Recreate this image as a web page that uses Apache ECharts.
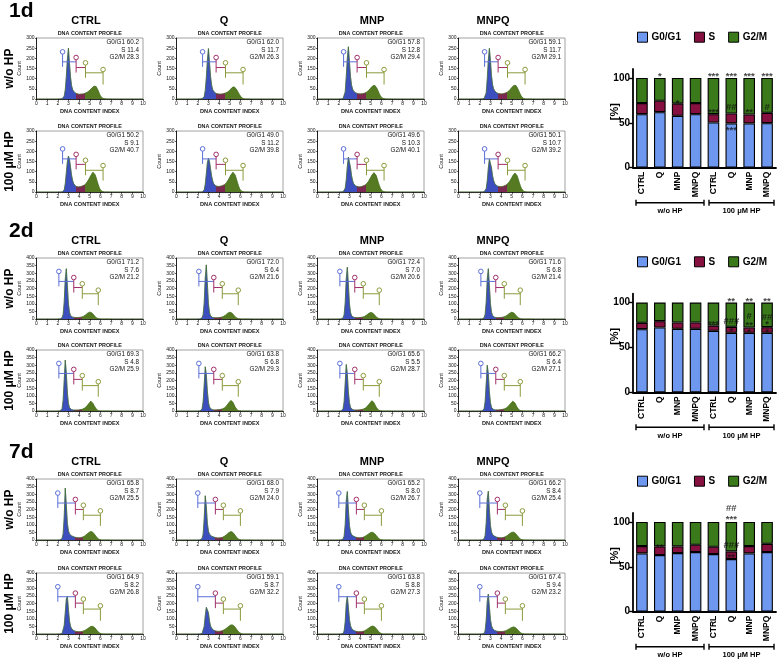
<!DOCTYPE html>
<html><head><meta charset="utf-8">
<script src="https://cdn.jsdelivr.net/npm/echarts@6/dist/echarts.min.js"></script>
<style>html,body{margin:0;padding:0;background:#fff}#c{width:780px;height:660px}</style>
</head><body><div id="c"></div>
<script>
// ---------------- DATA ----------------
const HIST_X = [2.0,2.1,2.2,2.3,2.4,2.5,2.6,2.7,2.8,2.9,3.0,3.1,3.2,3.3,3.4,3.5,3.6,3.7,3.8,3.9,4.0,4.1,4.2,4.3,4.4,4.5,4.6,4.7,4.8,4.9,5.0,5.1,5.2,5.3,5.4,5.5,5.6,5.7,5.8,5.9,6.0,6.1,6.2,6.3,6.4,6.5,6.6,6.7,6.8,6.9];

const H1D_WO_CTRL = [0,0,0,0,1,4,14,45,110,195,250,175,105,65,45,36,31,28,26,24,23,23,24,24,25,27,29,31,34,38,43,48,54,59,63,65,61,52,40,27,15,8,4,2,1,0,0,0,0,0];
const H1D_WO_Q    = [0,0,0,0,1,3,12,42,105,190,248,180,110,68,46,37,31,28,26,25,24,24,24,25,26,27,29,31,34,38,43,49,55,60,60,56,50,42,32,22,13,7,3,1,0,0,0,0,0,0];
const H1D_WO_MNP  = [0,0,0,0,2,8,35,110,200,257,185,110,68,48,38,33,30,28,26,25,25,25,26,27,28,30,33,37,42,48,54,60,65,68,66,60,50,38,26,15,8,4,2,1,0,0,0,0,0,0];
const H1D_WO_MNPQ = [0,0,0,0,2,7,30,100,190,249,190,115,70,50,40,34,30,28,26,25,25,25,26,27,29,31,34,38,43,49,56,62,67,69,66,58,47,35,23,13,7,3,1,0,0,0,0,0,0,0];
const H1D_HP_CTRL = [0,0,0,0,0,2,10,40,95,150,177,160,120,80,55,40,32,28,26,25,25,26,27,29,31,34,38,44,52,61,71,81,90,97,95,85,70,52,35,20,10,4,2,1,0,0,0,0,0,0];
const H1D_HP_Q    = [0,0,0,0,0,2,10,38,90,145,165,150,112,78,54,40,33,30,28,27,27,28,29,31,33,36,40,46,54,63,73,83,92,97,94,84,68,50,33,19,9,4,2,1,0,0,0,0,0,0];
const H1D_HP_MNP  = [0,0,0,0,1,4,18,60,125,172,165,120,80,55,40,33,29,27,26,25,25,26,28,30,32,35,39,45,53,62,72,82,90,95,92,82,66,48,32,18,9,4,2,1,0,0,0,0,0,0];
const H1D_HP_MNPQ = [0,0,0,0,1,4,16,55,118,162,158,118,80,56,42,34,30,28,27,26,26,27,28,30,32,35,39,45,52,60,70,80,88,93,90,80,64,47,31,18,9,4,2,1,0,0,0,0,0,0];

const H2D_WO_CTRL = [0,0,0,2,8,30,110,260,330,220,100,45,22,15,12,10,10,9,9,10,10,11,12,14,17,21,26,32,38,42,45,44,40,33,24,15,8,4,2,1,0,0,0,0,0,0,0,0,0,0];
const H2D_WO_Q    = [0,0,0,2,8,28,105,270,355,230,100,42,20,13,10,9,8,8,8,8,9,10,11,13,16,20,25,31,37,42,44,43,39,32,23,14,8,4,2,1,0,0,0,0,0,0,0,0,0,0];
const H2D_WO_MNP  = [0,0,0,2,7,28,105,265,340,225,100,44,21,14,11,10,9,9,9,9,10,10,11,13,16,20,25,31,36,40,43,42,38,31,23,14,8,4,2,1,0,0,0,0,0,0,0,0,0,0];
const H2D_WO_MNPQ = [0,0,0,2,8,30,110,262,330,222,100,45,22,14,11,10,9,9,9,9,10,11,12,14,17,21,26,32,37,41,44,43,39,32,23,14,8,4,2,1,0,0,0,0,0,0,0,0,0,0];
const H2D_HP_CTRL = [0,0,0,3,15,70,200,334,250,120,50,22,12,9,7,6,6,6,6,6,7,8,9,11,14,18,23,30,38,47,56,64,62,50,36,23,13,6,2,1,0,0,0,0,0,0,0,0,0,0];
const H2D_HP_Q    = [0,0,0,3,14,60,170,290,240,130,58,26,14,10,8,7,7,7,7,8,9,10,11,13,16,20,26,33,42,52,61,69,68,57,42,27,15,7,3,1,0,0,0,0,0,0,0,0,0,0];
const H2D_HP_MNP  = [0,0,0,3,14,62,180,305,245,125,55,24,13,9,7,6,6,6,6,7,8,9,10,12,15,19,25,32,40,50,59,67,66,55,40,26,14,7,3,1,0,0,0,0,0,0,0,0,0,0];
const H2D_HP_MNPQ = [0,0,0,3,14,62,178,300,245,125,55,24,13,9,7,7,7,7,7,8,9,10,11,13,16,20,25,32,40,49,57,64,63,52,38,24,13,6,3,1,0,0,0,0,0,0,0,0,0,0];

const H7D_WO_CTRL = [0,0,0,2,10,40,150,340,230,110,60,40,32,27,24,21,18,16,15,14,14,15,16,18,21,25,30,36,42,48,53,56,55,50,42,32,22,13,7,3,1,0,0,0,0,0,0,0,0,0];
const H7D_WO_Q    = [0,0,0,2,10,38,140,290,220,110,58,38,30,25,22,19,17,15,14,13,13,14,15,17,20,24,29,35,41,47,52,55,54,49,41,31,21,12,6,3,1,0,0,0,0,0,0,0,0,0];
const H7D_WO_MNP  = [0,0,0,1,6,25,100,260,318,200,95,52,35,28,24,21,18,16,15,14,14,15,16,18,21,25,30,35,40,45,49,51,50,46,39,30,21,13,7,3,1,0,0,0,0,0,0,0,0,0];
const H7D_WO_MNPQ = [0,0,0,1,7,28,110,270,320,200,95,52,35,28,24,21,18,16,15,14,14,15,16,18,21,25,30,35,41,46,50,52,51,46,39,30,21,13,7,3,1,0,0,0,0,0,0,0,0,0];
const H7D_HP_CTRL = [0,0,0,0,3,15,55,140,230,247,160,85,50,35,27,22,19,17,16,15,15,15,16,17,19,22,26,30,35,40,45,49,51,50,46,39,30,21,13,7,3,1,0,0,0,0,0,0,0,0];
const H7D_HP_Q    = [0,0,0,0,3,14,50,120,175,185,140,85,52,37,29,24,21,19,18,17,17,18,19,21,24,28,33,38,44,50,55,59,60,58,53,45,35,25,16,9,4,2,1,0,0,0,0,0,0,0];
const H7D_HP_MNP  = [0,0,0,0,4,20,80,200,247,175,95,55,36,28,23,20,18,16,15,15,15,15,16,18,20,24,28,33,38,43,48,51,52,50,45,37,28,19,11,6,2,1,0,0,0,0,0,0,0,0];
const H7D_HP_MNPQ = [0,0,0,0,4,22,90,215,262,180,95,55,36,28,23,20,18,17,16,16,16,16,17,18,20,23,27,31,35,39,43,46,46,44,39,32,24,16,9,5,2,1,0,0,0,0,0,0,0,0];

// panel percentages (rows: 1d w/o, 1d HP, 2d w/o, 2d HP, 7d w/o, 7d HP; cols: CTRL, Q, MNP, MNPQ)
const PCT_G0 = [[60.2,62.0,57.8,59.1],[50.2,49.0,49.6,50.1],[71.2,72.0,72.4,71.6],[69.3,63.8,65.6,66.2],[65.8,68.0,65.2,66.2],[64.9,59.1,63.8,67.4]];
const PCT_S  = [[11.4,11.7,12.8,11.7],[9.1,11.2,10.3,10.7],[7.6,6.4,7.0,6.8],[4.8,6.8,5.5,6.4],[8.7,7.9,8.0,8.4],[8.2,8.7,8.8,9.4]];
const PCT_G2 = [[28.3,26.3,29.4,29.1],[40.7,39.8,40.1,39.2],[21.2,21.6,20.6,21.4],[25.9,29.3,28.7,27.1],[25.5,24.0,26.7,25.4],[26.8,32.2,27.3,23.2]];

// gate markers: x per block (G0/G1 start, S start, G2/M start, G2/M end), circle heights per row
const GATE_X = [[2.45,3.72,4.6,6.25],[2.1,3.5,4.3,5.8],[2.0,3.65,4.4,6.0]];
const GATE_Y = [[232,204,178,145],[212,185,156,130],[312,272,231,189],[312,273,232,192],[308,266,228,191],[310,268,229,185]];
const HIST_YMAX = [300,400,400];

const COL_NAMES = ['CTRL','Q','MNP','MNPQ'];
const BLOCK_NAMES = ['1d','2d','7d'];
const ROW_NAMES = ['w/o HP','100 μM HP'];

// bar charts
const BAR_CATS = ['CTRL','Q','MNP','MNPQ','CTRL','Q','MNP','MNPQ'];
const BAR_G0_1D = [59.7,61.9,57.8,59.7,50.4,49.3,49.3,49.6];
const BAR_S_1D  = [12.3,12.7,13.5,12.3,9.3,11.1,10.0,11.6];
const BAR_G2_1D = [28.0,25.4,28.7,28.0,40.3,39.6,40.7,38.8];
const BAR_G0_2D = [70.4,72.2,70.7,70.7,68.5,66.3,66.3,66.3];
const BAR_S_2D  = [7.0,7.1,7.1,7.1,5.9,6.7,5.9,6.3];
const BAR_G2_2D = [22.6,20.7,22.2,22.2,25.6,27.0,27.8,27.4];
const BAR_G0_7D = [64.9,63.1,65.3,66.4,64.2,58.6,64.9,66.4];
const BAR_S_7D  = [8.2,9.7,7.5,8.2,8.2,8.6,8.2,9.3];
const BAR_G2_7D = [26.9,27.2,27.2,25.4,27.6,32.8,26.9,24.3];
const SERIES_NAMES = ['G0/G1','S','G2/M'];
const GROUP_NAMES = ['w/o HP','100 μM HP'];

// significance marks [category index, y value, text]
const SIG_1D = [[1,105,'*'],[2,75,'*'],[4,105,'***'],[4,64,'***'],[5,105,'***'],[5,67,'##'],[5,44,'***'],[6,105,'***'],[6,64,'**'],[7,105,'***'],[7,67,'#']];
const SIG_2D = [[4,78.5,'***'],[5,104,'**'],[5,79,'###'],[5,71,'*'],[6,104,'**'],[6,84.5,'#'],[6,77,'**'],[6,70,'*'],[7,104,'**'],[7,84,'##'],[7,78.5,'*'],[7,70,'*']];
const SIG_7D = [[1,74,'**'],[5,115.5,'##'],[5,105.5,'***'],[5,73.5,'###'],[5,63,'**']];

// ---------------- BUILD ----------------
const HIST = [
  [H1D_WO_CTRL,H1D_WO_Q,H1D_WO_MNP,H1D_WO_MNPQ],
  [H1D_HP_CTRL,H1D_HP_Q,H1D_HP_MNP,H1D_HP_MNPQ],
  [H2D_WO_CTRL,H2D_WO_Q,H2D_WO_MNP,H2D_WO_MNPQ],
  [H2D_HP_CTRL,H2D_HP_Q,H2D_HP_MNP,H2D_HP_MNPQ],
  [H7D_WO_CTRL,H7D_WO_Q,H7D_WO_MNP,H7D_WO_MNPQ],
  [H7D_HP_CTRL,H7D_HP_Q,H7D_HP_MNP,H7D_HP_MNPQ]
];
const BARS = [[BAR_G0_1D,BAR_S_1D,BAR_G2_1D],[BAR_G0_2D,BAR_S_2D,BAR_G2_2D],[BAR_G0_7D,BAR_S_7D,BAR_G2_7D]];
const SIGS = [SIG_1D,SIG_2D,SIG_7D];

const FONT = '"Liberation Sans", Arial, Helvetica, sans-serif';
const COL_LEFT = [36.5,176.5,317.5,458.5];
const COL_TITLE_X = [86,224,372,493];
const PLOT_W = 106.5, PLOT_H = 61;
const ROW_TOP = [38,131,258,350,479,573];
const H_BLUE='#3d4fbf', H_MAROON='#7d2850', H_GREEN='#557a22', H_OUT='#3f6f1c';
const GATE_COL = ['#5b6fd6','#a0306a','#8c9a3c'];
const BAR_COL = ['#6e98f0','#86103f','#3a7a1b'];
const BAR_ZERO = [167.7,392.3,611.7];
const BAR_H = 98.7;

const grids=[], xAxes=[], yAxes=[], series=[], graphics=[], visualMaps=[], legends=[];
const areaIdx=[[],[],[]];
let gi=0;

function gateRender(params, api){
  const P = i => api.coord([api.value(i), api.value(4+i)]);
  const ch=[];
  for(let g=0; g<3; g++){
    const p=P(g), q=P(g+1), col=GATE_COL[g];
    ch.push({type:'line',shape:{x1:p[0],y1:p[1]+2,x2:p[0],y2:p[1]+15},style:{stroke:col,lineWidth:1}});
    ch.push({type:'line',shape:{x1:p[0],y1:p[1]+10,x2:q[0],y2:p[1]+10},style:{stroke:col,lineWidth:1}});
    ch.push({type:'circle',shape:{cx:p[0],cy:p[1],r:2.3},style:{fill:'#fff',stroke:col,lineWidth:1}});
  }
  const q=P(3);
  ch.push({type:'line',shape:{x1:q[0],y1:q[1]+2,x2:q[0],y2:q[1]+15},style:{stroke:GATE_COL[2],lineWidth:1}});
  ch.push({type:'circle',shape:{cx:q[0],cy:q[1],r:2.3},style:{fill:'#fff',stroke:GATE_COL[2],lineWidth:1}});
  return {type:'group',children:ch};
}

HIST.forEach((rowArr, r) => {
  const block = Math.floor(r/2);
  rowArr.forEach((vals, c) => {
    const left = COL_LEFT[c], top = ROW_TOP[r];
    grids.push({left:left, top:top, width:PLOT_W, height:PLOT_H, show:true, borderColor:'#8c8c8c', borderWidth:0.8, backgroundColor:'#fff'});
    xAxes.push({gridIndex:gi, type:'value', min:0, max:10, interval:1,
      name:'DNA CONTENT INDEX', nameLocation:'middle', nameGap:9,
      nameTextStyle:{fontFamily:FONT, fontSize:5.6, fontWeight:'bold', color:'#222'},
      axisLine:{lineStyle:{color:'#000', width:0.8}},
      axisTick:{length:2, lineStyle:{color:'#000', width:0.6}},
      minorTick:{show:true, splitNumber:5, length:1.2, lineStyle:{color:'#333', width:0.5}},
      axisLabel:{fontFamily:FONT, fontSize:5, color:'#111', margin:2},
      splitLine:{show:false}});
    yAxes.push({gridIndex:gi, type:'value', min:0, max:HIST_YMAX[block], interval:50,
      name:'Count', nameLocation:'middle', nameGap:13,
      nameTextStyle:{fontFamily:FONT, fontSize:5.5, color:'#222'},
      axisLine:{show:true, lineStyle:{color:'#000', width:0.8}},
      axisTick:{show:true, length:1.5, lineStyle:{color:'#000', width:0.6}},
      axisLabel:{fontFamily:FONT, fontSize:5, color:'#111', margin:2},
      splitLine:{show:false}});
    const data = HIST_X.map((x,i)=>[x, vals[i]]);
    series.push({type:'line', xAxisIndex:gi, yAxisIndex:gi, data:data, symbol:'none', smooth:false,
      lineStyle:{width:0.4}, areaStyle:{opacity:1}, silent:true, z:2});
    areaIdx[block].push(series.length-1);
    series.push({type:'line', xAxisIndex:gi, yAxisIndex:gi, data:[[0,0]].concat(data,[[10,0]]), symbol:'none',
      lineStyle:{width:0.7, color:H_OUT}, silent:true, z:3});
    series.push({type:'custom', xAxisIndex:gi, yAxisIndex:gi, renderItem:gateRender, silent:true, z:4,
      data:[GATE_X[block].concat(GATE_Y[r])]});
    graphics.push({type:'text', x:left+PLOT_W/2, y:top-4.5, style:{text:'DNA CONTENT PROFILE', align:'center', verticalAlign:'middle', font:'bold 5.4px '+FONT, fill:'#222'}});
    const tx = left+PLOT_W-4;
    [['G0/G1 '+PCT_G0[r][c].toFixed(1),4.7],['S '+PCT_S[r][c].toFixed(1),12],['G2/M '+PCT_G2[r][c].toFixed(1),19.3]].forEach(([t,dy])=>{
      graphics.push({type:'text', x:tx, y:top+dy, z:10, style:{text:t, align:'right', verticalAlign:'middle', font:'6.3px '+FONT, fill:'#111'}});
    });
    gi++;
  });
});

for (let b=0;b<3;b++){
  visualMaps.push({type:'piecewise', show:false, dimension:0, seriesIndex:areaIdx[b],
    pieces:[{lt:GATE_X[b][1], color:H_BLUE},{gte:GATE_X[b][1], lt:GATE_X[b][2], color:H_MAROON},{gte:GATE_X[b][2], color:H_GREEN}]});
}

for (let b=0;b<3;b++){
  const r1 = ROW_TOP[2*b];
  graphics.push({type:'text', x:9, y:r1-27, style:{text:BLOCK_NAMES[b], align:'left', verticalAlign:'middle', font:'bold 21px '+FONT, fill:'#000'}});
  COL_NAMES.forEach((n,c)=>{
    graphics.push({type:'text', x:COL_TITLE_X[c], y:r1-17, style:{text:n, align:'center', verticalAlign:'middle', font:'bold 11px '+FONT, fill:'#000'}});
  });
  for (let k=0;k<2;k++){
    const rt = ROW_TOP[2*b+k];
    graphics.push({type:'text', x:10, y:rt+PLOT_H/2, rotation:Math.PI/2, style:{text:ROW_NAMES[k], align:'center', verticalAlign:'middle', font:'bold 12px '+FONT, fill:'#000'}});
  }
}

for (let b=0;b<3;b++){
  const z0 = BAR_ZERO[b];
  grids.push({left:633, top:z0-BAR_H, width:143, height:BAR_H});
  xAxes.push({gridIndex:gi, type:'category', data:BAR_CATS,
    axisLine:{lineStyle:{color:'#000', width:1.8}},
    axisTick:{alignWithLabel:true, length:3, lineStyle:{color:'#000', width:1.4}},
    axisLabel:{rotate:90, fontFamily:FONT, fontSize:8.5, fontWeight:'bold', color:'#000', margin:4, interval:0}});
  yAxes.push({gridIndex:gi, type:'value', min:0, max:110, interval:50,
    axisLine:{show:true, lineStyle:{color:'#000', width:1.8}},
    axisTick:{show:true, length:4, customValues:[0,50,100], lineStyle:{color:'#000', width:1.4}},
    axisLabel:{customValues:[0,50,100], formatter:v=> (v%50===0? String(v):''), fontFamily:FONT, fontSize:10, fontWeight:'bold', color:'#000', margin:3},
    splitLine:{show:false}});
  BARS[b].forEach((vals,k)=>{
    series.push({type:'bar', name:SERIES_NAMES[k], xAxisIndex:gi, yAxisIndex:gi, stack:'st'+b, data:vals, barWidth:'65%',
      itemStyle:{color:BAR_COL[k], borderColor:'#000', borderWidth:1.1}, silent:true});
  });
  series.push({type:'scatter', xAxisIndex:gi, yAxisIndex:gi, symbolSize:0, clip:false, z:10, silent:true,
    data:SIGS[b].map(s=>({value:[s[0],s[1]], name:s[2], label:{offset:[0, s[2].indexOf('*')>=0?2.5:0]}})),
    label:{show:true, position:'inside', formatter:'{b}', fontFamily:FONT, fontSize:9.5, fontWeight:'bold', color:'#111'}});
  legends.push({top:z0-136, left:637, padding:0, itemGap:13, itemWidth:10, itemHeight:10, icon:'rect',
    data:SERIES_NAMES, selectedMode:false,
    itemStyle:{borderColor:'#000', borderWidth:1},
    textStyle:{fontFamily:FONT, fontSize:10, fontWeight:'bold', color:'#000', padding:[0,0,0,-1]}});
  graphics.push({type:'text', x:615, y:z0-56, rotation:Math.PI/2, style:{text:'[%]', align:'center', verticalAlign:'middle', font:'bold 11px '+FONT, fill:'#000'}});
  [[636,704,GROUP_NAMES[0]],[709,774,GROUP_NAMES[1]]].forEach(([x1,x2,t])=>{
    const yl = z0+35;
    graphics.push({type:'line', shape:{x1:x1,y1:yl,x2:x2,y2:yl}, style:{stroke:'#000', lineWidth:1.4}});
    graphics.push({type:'line', shape:{x1:x1,y1:yl-3,x2:x1,y2:yl+3}, style:{stroke:'#000', lineWidth:1.4}});
    graphics.push({type:'line', shape:{x1:x2,y1:yl-3,x2:x2,y2:yl+3}, style:{stroke:'#000', lineWidth:1.4}});
    graphics.push({type:'text', x:(x1+x2)/2, y:yl+8.5, style:{text:t, align:'center', verticalAlign:'middle', font:'bold 7.5px '+FONT, fill:'#000'}});
  });
  gi++;
}

const chart = echarts.init(document.getElementById('c'), null, {renderer:'canvas'});
chart.setOption({
  animation:false,
  backgroundColor:'#fff',
  grid:grids, xAxis:xAxes, yAxis:yAxes, series:series,
  visualMap:visualMaps, legend:legends, graphic:graphics
});
</script></body></html>
